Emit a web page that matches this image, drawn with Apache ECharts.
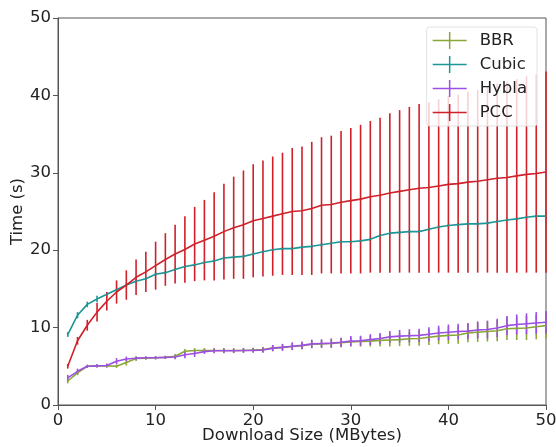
<!DOCTYPE html>
<html lang="en">
<head>
<meta charset="UTF-8">
<script src="https://cdn.jsdelivr.net/npm/echarts@6/dist/echarts.min.js"></script>
<title>Download time vs size</title>
<style>
    html, body { margin: 0; padding: 0; background: #fff; }
    #chart { width: 556px; height: 447px; }
</style>
</head>
<body>
<div id="chart"></div>
<script>
// download sizes (MBytes)
const sizes = [1,2,3,4,5,6,7,8,9,10,11,12,13,14,15,16,17,18,19,20,21,22,23,24,25,
               26,27,28,29,30,31,32,33,34,35,36,37,38,39,40,41,42,43,44,45,46,47,48,49,50];

// mean time (s) and error (+/-) per protocol
const bbrMean = [3.1,4.15,5.0,5.05,5.05,5.0,5.5,6.0,6.05,6.1,6.15,6.3,6.95,7.05,7.05,7.05,7.05,7.05,7.05,7.1,
                 7.15,7.35,7.45,7.55,7.65,7.85,7.9,7.95,8.05,8.15,8.2,8.25,8.35,8.4,8.45,8.55,8.6,8.75,8.9,9.0,
                 9.05,9.3,9.4,9.5,9.6,9.85,9.9,9.95,10.1,10.25];
const bbrErr = [0.3,0.3,0.2,0.2,0.2,0.2,0.4,0.3,0.2,0.2,0.2,0.3,0.3,0.3,0.3,0.3,0.3,0.3,0.3,0.3,
                0.35,0.4,0.4,0.45,0.45,0.5,0.5,0.55,0.6,0.6,0.65,0.7,0.8,0.85,0.85,0.9,0.95,1.0,1.05,1.1,
                1.15,1.2,1.25,1.3,1.35,1.45,1.5,1.55,1.6,1.7];

const cubicMean = [9.1,11.6,13.0,13.7,14.3,14.9,15.5,16.0,16.3,16.9,17.1,17.5,17.9,18.1,18.4,18.6,19.0,19.1,19.2,19.5,
                   19.8,20.05,20.2,20.2,20.4,20.5,20.7,20.9,21.1,21.1,21.2,21.4,21.9,22.2,22.3,22.4,22.4,22.7,23.0,23.2,
                   23.3,23.4,23.4,23.5,23.7,23.9,24.05,24.25,24.4,24.4];
const cubicErr = [0.3,0.4,0.35,0.4,0.3,0.2,0.2,0.2,0.2,0.2,0.2,0.2,0.2,0.2,0.2,0.2,0.2,0.2,0.2,0.2,
                  0.2,0.2,0.2,0.2,0.2,0.2,0.2,0.2,0.2,0.2,0.2,0.2,0.2,0.2,0.2,0.2,0.2,0.2,0.2,0.2,
                  0.2,0.2,0.2,0.2,0.2,0.2,0.2,0.2,0.2,0.2];

const hyblaMean = [3.5,4.35,5.0,5.05,5.1,5.65,5.95,6.05,6.1,6.1,6.15,6.2,6.5,6.65,6.9,7.0,7.0,7.0,7.05,7.05,
                   7.1,7.35,7.45,7.6,7.7,7.9,7.95,8.0,8.1,8.25,8.3,8.45,8.6,8.8,8.9,8.95,9.0,9.15,9.3,9.4,
                   9.5,9.55,9.7,9.75,9.95,10.25,10.4,10.5,10.6,10.7];
const hyblaErr = [0.4,0.35,0.2,0.2,0.25,0.4,0.3,0.2,0.2,0.2,0.2,0.3,0.45,0.45,0.3,0.3,0.3,0.3,0.3,0.3,
                  0.35,0.4,0.45,0.5,0.5,0.55,0.55,0.6,0.6,0.65,0.65,0.7,0.7,0.75,0.8,0.85,0.85,0.9,0.95,1.0,
                  1.0,1.05,1.1,1.15,1.2,1.25,1.3,1.35,1.4,1.45];

const pccMean = [5.0,8.3,10.3,12.0,13.4,14.6,15.5,16.5,17.2,18.0,18.8,19.5,20.1,20.8,21.3,21.8,22.4,22.9,23.3,23.8,
                 24.1,24.4,24.7,25.0,25.1,25.4,25.8,25.9,26.2,26.4,26.6,26.9,27.1,27.4,27.6,27.8,28.0,28.1,28.3,28.5,
                 28.6,28.8,28.9,29.1,29.3,29.4,29.6,29.8,29.9,30.1];
const pccErr = [0.3,0.5,0.7,1.2,1.2,1.5,1.9,2.3,2.6,3.1,3.4,3.8,4.3,4.8,5.2,5.7,6.2,6.6,7.0,7.3,
                7.5,7.7,7.9,8.2,8.3,8.6,8.8,8.9,9.2,9.4,9.6,9.8,10.0,10.3,10.5,10.7,10.9,11.0,11.2,11.4,
                11.5,11.7,11.8,12.0,12.2,12.3,12.5,12.7,12.8,13.0];

const protocols = [
    { name: 'BBR',   color: '#8aa636', mean: bbrMean,   err: bbrErr },
    { name: 'Cubic', color: '#1f9595', mean: cubicMean, err: cubicErr },
    { name: 'Hybla', color: '#9d4fe3', mean: hyblaMean, err: hyblaErr },
    { name: 'PCC',   color: '#d0202a', mean: pccMean,   err: pccErr }
];

// legend icon: horizontal line crossed by a vertical error bar
const crossIcon = 'path://M0,7.75h34v1.5h-34z M16.25,0h1.5v17h-1.5z';

const series = [];
protocols.forEach(p => {
    series.push({
        name: p.name + ' err',
        type: 'custom',
        silent: true,
        data: sizes.map((x, i) => [x, p.mean[i] - p.err[i], p.mean[i] + p.err[i]]),
        renderItem: (params, api) => {
            const lo = api.coord([api.value(0), api.value(1)]);
            const hi = api.coord([api.value(0), api.value(2)]);
            return {
                type: 'line',
                shape: { x1: lo[0], y1: lo[1], x2: hi[0], y2: hi[1] },
                style: { stroke: p.color, lineWidth: 1.6 }
            };
        },
        z: 2
    });
    series.push({
        name: p.name,
        type: 'line',
        data: sizes.map((x, i) => [x, p.mean[i]]),
        showSymbol: false,
        color: p.color,
        lineStyle: { width: 1.6, color: p.color },
        z: 2
    });
});

const chart = echarts.init(document.getElementById('chart'));
chart.setOption({
    animation: false,
    textStyle: { fontFamily: 'DejaVu Sans' },
    grid: {
        left: 58, right: 10, top: 18, bottom: 42,
        outerBoundsMode: 'none',
        containLabel: false,
        show: true, borderColor: '#555', borderWidth: 1
    },
    legend: {
        orient: 'vertical',
        right: 19,
        top: 27,
        padding: [5, 10, 5, 6],
        itemWidth: 34,
        itemHeight: 17,
        itemGap: 7,
        backgroundColor: 'rgba(255,255,255,0.8)',
        borderColor: '#e2e2e2',
        borderWidth: 1,
        borderRadius: 3,
        textStyle: { fontSize: 16.5, color: '#222', padding: [0, 0, 0, 8] },
        data: protocols.map(p => ({ name: p.name, icon: crossIcon }))
    },
    xAxis: {
        type: 'value',
        min: 0, max: 50, interval: 10,
        name: 'Download Size (MBytes)',
        nameLocation: 'middle',
        nameGap: 22,
        nameMoveOverlap: false,
        nameTextStyle: { fontSize: 16.5, color: '#222' },
        axisLine: { lineStyle: { color: '#555' } },
        axisTick: { length: 5, lineStyle: { color: '#555' } },
        axisLabel: { fontSize: 16.5, color: '#222', margin: 7 },
        splitLine: { show: false }
    },
    yAxis: {
        type: 'value',
        min: 0, max: 50, interval: 10,
        name: 'Time (s)',
        nameLocation: 'middle',
        nameGap: 32,
        nameMoveOverlap: false,
        nameTextStyle: { fontSize: 16.5, color: '#222' },
        axisLine: { show: true, lineStyle: { color: '#555' } },
        axisTick: { show: true, length: 5, lineStyle: { color: '#555' } },
        axisLabel: { fontSize: 16.5, color: '#222', margin: 7 },
        splitLine: { show: false }
    },
    series: series
});
</script>
</body>
</html>
